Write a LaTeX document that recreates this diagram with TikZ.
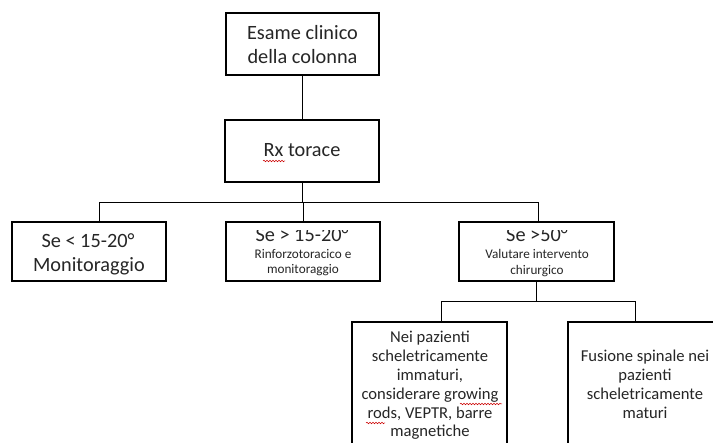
\documentclass[tikz,border=0pt]{standalone}
\usepackage{fontspec}
\setmainfont{Carlito}
\usetikzlibrary{decorations.pathmorphing}
\begin{document}
\begin{tikzpicture}[x=1pt,y=-1pt,
 box/.style={draw=black, line width=1.7pt, fill=white, inner sep=0pt},
 conn/.style={draw=black, line width=0.9pt},
 big/.style={font=\fontsize{20.3}{24}\selectfont, text=black!85, anchor=base, inner sep=0pt},
 small/.style={font=\fontsize{13.2}{15}\selectfont, text=black!85, anchor=base, inner sep=0pt},
 mid/.style={font=\fontsize{16.6}{19}\selectfont, text=black!85, anchor=base, inner sep=0pt},
 squig/.style={draw=red!80!black, line width=0.5pt, decorate, decoration={snake, amplitude=0.8pt, segment length=3pt}}]
\useasboundingbox (0,0) rectangle (713,443);
\clip (0,0) rectangle (713,443);
\fill[white] (0,0) rectangle (713,443);

% boxes (nodes)
\node[box, minimum width=153pt, minimum height=62pt] (esame) at (302.5,44) {};
\node[box, minimum width=154pt, minimum height=62pt] (rx) at (302,151) {};
\node[box, minimum width=154pt, minimum height=59pt] (b1) at (89,251.5) {};
\node[box, minimum width=154pt, minimum height=59pt] (b2) at (303,251.5) {};
\node[box, minimum width=155pt, minimum height=59pt] (b3) at (536.5,251.5) {};
\node[box, minimum width=155pt, minimum height=148pt] (b4) at (429.5,396) {};
\node[box, minimum width=154pt, minimum height=148pt] (b5) at (645,396) {};

% connectors
\coordinate (j1) at (99,202);
\coordinate (j3) at (538,202);
\coordinate (k1) at (441,301);
\coordinate (k2) at (635,301);
\draw[conn] (esame.south) -- (esame.south |- rx.north);
\draw[conn] (rx.south) -- (rx.south |- j1);
\draw[conn] (j1 |- b1.north) -- (j1) -- (j3) -- (j3 |- b3.north);
\draw[conn] (b2.north) -- (b2.north |- j1);
\draw[conn] (b3.south) -- (b3.south |- k1);
\draw[conn] (k1 |- b4.north) -- (k1) -- (k2) -- (k2 |- b5.north);

% texts
\node[big] (t0a) at (302.5,40) {Esame clinico};
\node[big] (t0b) at (302.5,64) {della colonna};
\node[big] (t1) at (302,157) {Rx torace};
\node[big] (t2a) at (88,248) {Se < 15-20°};
\node[big] (t2b) at (89,272) {Monitoraggio};
\begin{scope}
\clip (226,231) rectangle (380,281);
\node[big] (t3a) at (302,242) {Se > 15-20°};
\end{scope}
\node[small] (t3b) at (303,259) {Rinforzotoracico e};
\node[small] (t3c) at (303,274) {monitoraggio};
\begin{scope}
\clip (459,231) rectangle (614,281);
\node[big] (t4a) at (537,242) {Se >50°};
\end{scope}
\node[small] (t4b) at (537,259) {Valutare intervento};
\node[small] (t4c) at (537,275) {chirurgico};
\node[mid] (t5a) at (430,343) {Nei pazienti};
\node[mid] (t5b) at (430,361.8) {scheletricamente};
\node[mid] (t5c) at (430,380.6) {immaturi,};
\node[mid] (t5d) at (430,399.4) {considerare growing};
\node[mid] (t5e) at (430,418.2) {rods, VEPTR, barre};
\node[mid] (t5f) at (430,437) {magnetiche};
\node[mid] (t6a) at (645,362) {Fusione spinale nei};
\node[mid] (t6b) at (645,381) {pazienti};
\node[mid] (t6c) at (645,400) {scheletricamente};
\node[mid] (t6d) at (645,419) {maturi};

% spell-check squiggles
\draw[squig] (263,161) -- (285,161);
\draw[squig] (460,404) -- (502,404);
\draw[squig] (366,423) -- (385,423);
\end{tikzpicture}
\end{document}
